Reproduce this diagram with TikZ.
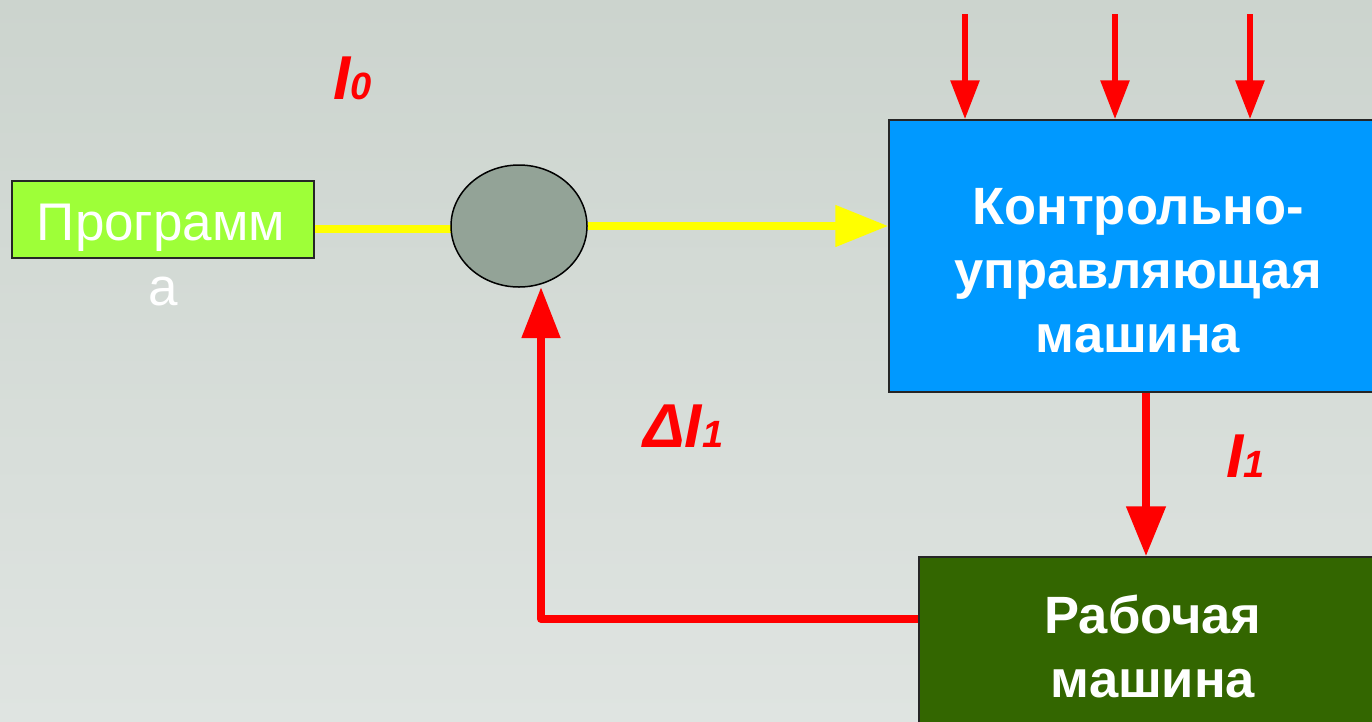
\documentclass[tikz,border=0pt]{standalone}
\usepackage{fontspec}
\setmainfont{Liberation Sans}
\usetikzlibrary{arrows.meta,shapes.geometric}
\definecolor{bgtop}{HTML}{CCD4CE}
\definecolor{bgbot}{HTML}{DFE4E1}
\definecolor{proggreen}{HTML}{9EFF38}
\definecolor{ctrlblue}{HTML}{0099FF}
\definecolor{workgreen}{HTML}{336600}
\definecolor{sumgray}{HTML}{93A397}
\definecolor{sigred}{HTML}{FF0000}
\definecolor{sigyellow}{HTML}{FFFF00}
\tikzset{
  boxstyle/.style={draw=black!85, line width=1.5pt, inner sep=0pt},
  plaintext/.style={text=white, font=\fontsize{53}{64}\selectfont, inner sep=0pt},
  boldtext/.style={text=white, font=\fontsize{52.5}{64}\selectfont\bfseries, inner sep=0pt, align=center},
  labeltext/.style={text=sigred, font=\fontsize{62}{62}\selectfont\bfseries\itshape, inner sep=0pt},
  yline/.style={draw=sigyellow, line width=8pt},
  rline/.style={draw=sigred, line width=8pt, line join=round},
  rthin/.style={draw=sigred, line width=6pt},
}
\newcommand{\sbs}[1]{{\fontsize{38}{38}\selectfont #1}}
\begin{document}
\begin{tikzpicture}[x=1pt,y=-1pt]
\useasboundingbox (0,0) rectangle (1372,721);
\clip (0,0) rectangle (1372,721);
\shade[top color=bgtop,bottom color=bgbot] (0,0) rectangle (1372,721);

% boxes
\node[boxstyle, fill=proggreen, minimum width=302pt, minimum height=77pt] (prog) at (163,219.5) {};
\node[boxstyle, fill=ctrlblue, minimum width=500pt, minimum height=272pt] (ctrl) at (1139,256) {};
\node[boxstyle, fill=workgreen, minimum width=470pt, minimum height=180pt] (work) at (1154,647) {};

% texts (base anchor = baseline of last line)
\node[plaintext, anchor=base] (progt1) at (161,240) {Программ};
\node[plaintext, anchor=base] (progt2) at (163,305) {а};
\node[boldtext, anchor=base] (ctrlt) at (1138,352) {Контрольно-\\управляющая\\машина};
\node[boldtext, anchor=base] (workt) at (1153,697) {Рабочая\\машина};

% coordinates
\coordinate (yl) at (0,229);
\coordinate (t1) at (965,14);
\coordinate (t2) at (1115,14);
\coordinate (t3) at (1250,14);
\coordinate (dx) at (1146,0);
\coordinate (fb) at (541,619);

% yellow line into summing node (behind it)
\draw[yline] (prog.east |- yl) -- (452,229);

% summing node
\node[ellipse, draw=black, line width=1.5pt, fill=sumgray, minimum width=136pt, minimum height=122pt, inner sep=0pt] (sum) at (519,226) {};

% yellow arrow
\draw[yline, -{Triangle[length=53pt,width=40pt]}] (sum.east) -- (ctrl.west |- sum.east);

% disturbance arrows
\draw[rthin, -{Triangle[length=39pt,width=28pt]}] (t1) -- (t1 |- ctrl.north);
\draw[rthin, -{Triangle[length=39pt,width=28pt]}] (t2) -- (t2 |- ctrl.north);
\draw[rthin, -{Triangle[length=39pt,width=28pt]}] (t3) -- (t3 |- ctrl.north);

% I1 arrow
\draw[rline, -{Triangle[length=50pt,width=38pt]}] (ctrl.south -| dx) -- (work.north -| dx);

% feedback
\draw[rline, -{Triangle[length=51pt,width=37pt]}] (work.west |- fb) -- (fb) -- (fb |- 0,287);

% labels
\node[labeltext, anchor=base west] (l0) at (333,99) {I\sbs{0}};
\node[labeltext, anchor=base west] (dl1) at (643,447) {ΔI\sbs{1}};
\node[labeltext, anchor=base west] (l1) at (1226,477) {I\sbs{1}};
\end{tikzpicture}
\end{document}
